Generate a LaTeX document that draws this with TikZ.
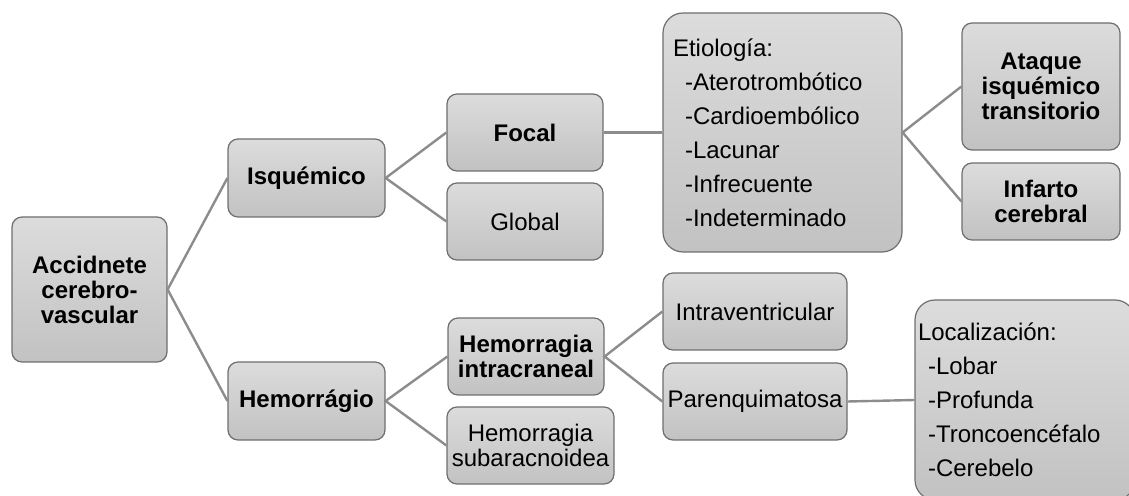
\documentclass[tikz,border=0pt]{standalone}
\usepackage{fontspec}
\setmainfont{Liberation Sans}

\definecolor{boxline}{HTML}{6E6E6E}
\definecolor{boxtop}{HTML}{DCDCDC}
\definecolor{boxbottom}{HTML}{C2C2C2}
\definecolor{linkgray}{HTML}{8C8C8C}

\begin{document}
\begin{tikzpicture}[x=0.5pt, y=-0.5pt,
        box/.style={draw=boxline, line width=0.6pt, rounded corners=5pt,
            top color=boxtop, bottom color=boxbottom, align=center,
            inner sep=0pt, font=\fontsize{12}{12.5}\selectfont},
        bigbox/.style={box, rounded corners=10pt, align=left,
            font=\fontsize{12}{17}\selectfont},
        link/.style={draw=linkgray, line width=1.2pt}]
                \useasboundingbox (0,0) rectangle (1129,496);

                % first level
                \node [box, minimum width=77.5pt, minimum height=72.5pt] (acv) at (89.5,289.5)
                    {\textbf{Accidnete}\\\textbf{cerebro-}\\\textbf{vascular}};

                \node [box, minimum width=78.5pt, minimum height=39pt] (isq) at (306.5,178) {\textbf{Isquémico}};
                \node [box, minimum width=78.5pt, minimum height=39pt] (hem) at (306.5,401) {\textbf{Hemorrágio}};

                % ischaemic branch
                \node [box, minimum width=78pt, minimum height=38.5pt] (focal) at (525,132.5) {\textbf{Focal}};
                \node [box, minimum width=78pt, minimum height=38.5pt] (global) at (525,221.5) {Global};

                \node [bigbox, minimum width=119.5pt, minimum height=119.5pt, text width=109.5pt,
                    inner xsep=5pt] (etio) at (782.5,132.5)
                    {Etiología:\\\hspace*{6pt}-Aterotrombótico\\\hspace*{6pt}-Cardioembólico\\
                     \hspace*{6pt}-Lacunar\\\hspace*{6pt}-Infrecuente\\\hspace*{6pt}-Indeterminado};

                \node [box, minimum width=79pt, minimum height=63.5pt] (ait) at (1041,86.5)
                    {\textbf{Ataque}\\\textbf{isquémico}\\\textbf{transitorio}};
                \node [box, minimum width=79pt, minimum height=38.5pt] (infarto) at (1041,201.5)
                    {\textbf{Infarto}\\\textbf{cerebral}};

                % haemorrhagic branch
                \node [box, minimum width=78pt, minimum height=38.5pt] (intracr) at (526,356.5)
                    {\textbf{Hemorragia}\\\textbf{intracraneal}};
                \node [box, minimum width=83.5pt, minimum height=38.5pt] (subarac) at (530.5,445.5)
                    {Hemorragia\\subaracnoidea};

                \node [box, minimum width=92pt, minimum height=38.5pt] (intravent) at (755,311.5) {Intraventricular};
                \node [box, minimum width=92pt, minimum height=38.5pt] (parenq) at (755,401.5) {Parenquimatosa};

                \node [bigbox, minimum width=110pt, minimum height=100pt, text width=107pt,
                    inner xsep=1.5pt] (local) at (1025,400)
                    {Localización:\\\hspace*{5pt}-Lobar\\\hspace*{5pt}-Profunda\\
                     \hspace*{5pt}-Troncoencéfalo\\\hspace*{5pt}-Cerebelo};

                % connectors
                \draw [link] (isq.west) -- (acv.east) -- (hem.west);
                \draw [link] (focal.west) -- (isq.east) -- (global.west);
                \draw [link] (focal.east) -- (etio.west);
                \draw [link] (ait.west) -- (etio.east) -- (infarto.west);
                \draw [link] (intracr.west) -- (hem.east) -- (subarac.west);
                \draw [link] (intravent.west) -- (intracr.east) -- (parenq.west);
                \draw [link] (parenq.east) -- (local.west);
\end{tikzpicture}
\end{document}
